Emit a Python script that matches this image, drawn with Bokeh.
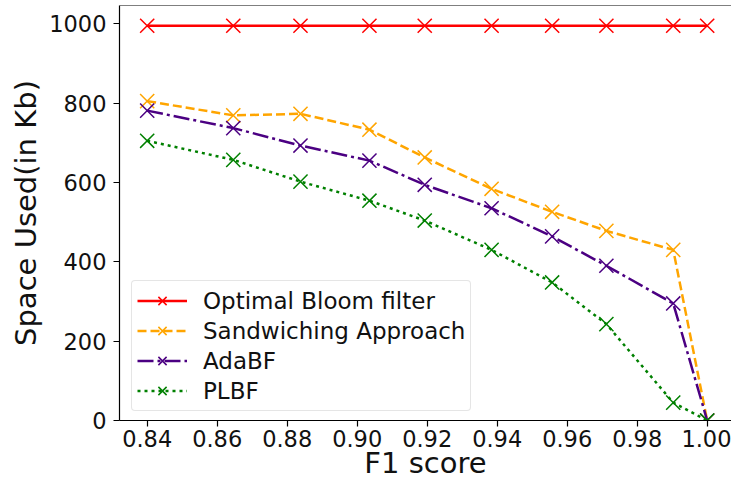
from bokeh.plotting import figure
from bokeh.models import Range1d, FixedTicker, PrintfTickFormatter, Span, Legend
from bokeh.embed import file_html
from bokeh.resources import INLINE

# ---- data ----
f1 = [0.840, 0.8646, 0.8838, 0.9035, 0.9193, 0.9384, 0.9557, 0.9712, 0.9903, 1.000]
optimal_bloom = [995, 995, 995, 995, 995, 995, 995, 995, 995, 995]
sandwiching = [805, 769, 773, 733, 663, 584, 526, 478, 430, 0]
adabf = [781, 737, 693, 655, 594, 535, 464, 390, 295, 0]
plbf = [705, 657, 602, 554, 504, 430, 348, 243, 45, 0]

series_names = ["Optimal Bloom filter", "Sandwiching Approach", "AdaBF", "PLBF"]
x_ticks = [0.84, 0.86, 0.88, 0.90, 0.92, 0.94, 0.96, 0.98, 1.00]
y_ticks = [0, 200, 400, 600, 800, 1000]

FONT = "DejaVu Sans"
Y_END = 1046

p = figure(frame_width=612, frame_height=415,
           x_range=Range1d(0.83209, 1.00695), y_range=Range1d(0, Y_END),
           output_backend="svg", toolbar_location=None,
           min_border_left=119, min_border_right=0, min_border_top=5, min_border_bottom=56)

p.outline_line_color = None
p.xgrid.visible = False
p.ygrid.visible = False
p.background_fill_color = "white"
p.border_fill_color = "white"

styles = [
    (optimal_bloom, "#ff0000", "solid"),
    (sandwiching, "#ffa500", "9 4"),
    (adabf, "#4b0082", "16 4 3 4"),
    (plbf, "#008000", "3 4"),
]
for name, (ys, color, dash) in zip(series_names, styles):
    p.line(f1, ys, line_color=color, line_width=2.5, line_dash=dash, legend_label=name)
    p.scatter(f1, ys, marker="x", size=20, line_color=color, line_width=1.5, legend_label=name)

# top spine
p.add_layout(Span(location=Y_END, dimension="width", line_color="black", line_width=1.2))

for ax in (p.xaxis[0], p.yaxis[0]):
    ax.axis_line_color = "black"
    ax.axis_line_width = 1.2
    ax.major_tick_line_color = "black"
    ax.major_tick_line_width = 1.2
    ax.major_tick_out = 6
    ax.major_tick_in = 0
    ax.minor_tick_line_color = None
    ax.major_label_text_font = FONT
    ax.major_label_text_font_size = "22.5px"
    ax.major_label_text_color = "#111111"
    ax.axis_label_text_font = FONT
    ax.axis_label_text_font_size = "29px"
    ax.axis_label_text_font_style = "normal"
    ax.axis_label_text_color = "#111111"

p.xaxis[0].ticker = FixedTicker(ticks=x_ticks)
p.xaxis[0].formatter = PrintfTickFormatter(format="%.2f")
p.xaxis[0].axis_label = "F1 score"
p.xaxis[0].major_label_standoff = 3
p.xaxis[0].axis_label_standoff = -4

p.yaxis[0].ticker = FixedTicker(ticks=y_ticks)
p.yaxis[0].axis_label = "Space Used(in Kb)"
p.yaxis[0].major_label_standoff = 7
p.yaxis[0].axis_label_standoff = 3

leg = p.legend[0]
leg.location = (12, 9)
leg.margin = 0
leg.padding = 5
leg.spacing = 1
leg.glyph_width = 50
leg.glyph_height = 29
leg.label_height = 29
leg.label_standoff = 16
leg.label_text_font = FONT
leg.label_text_font_size = "23px"
leg.label_text_color = "#111111"
leg.border_line_color = "#cccccc"
leg.border_line_width = 1
leg.background_fill_color = "white"
leg.background_fill_alpha = 0.8
if "border_radius" in Legend.properties():
    leg.border_radius = 4

open("out.html", "w").write(file_html(p, INLINE))
